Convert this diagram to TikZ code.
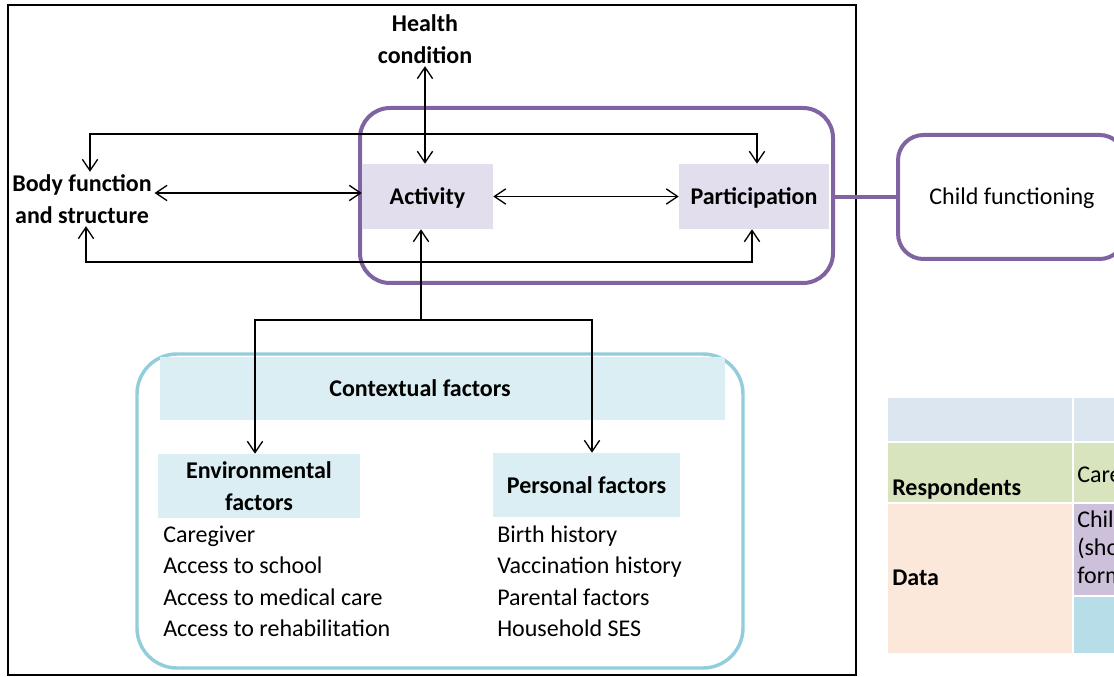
\documentclass[tikz,border=0pt]{standalone}
\usepackage{fontspec}
\setmainfont{Carlito}
\usetikzlibrary{arrows.meta}
\definecolor{icfpurple}{HTML}{8064A2}
\definecolor{boxlav}{HTML}{E2DEEE}
\definecolor{ctxblue}{HTML}{92CDDC}
\definecolor{ctxfill}{HTML}{DAEEF3}
\definecolor{hdrfill}{HTML}{DCE6F1}
\definecolor{resfill}{HTML}{D7E4BD}
\definecolor{datfill}{HTML}{FCE8DA}
\definecolor{cellpurple}{HTML}{CCC0DA}
\definecolor{cellblue}{HTML}{B7DEE8}
\newcommand{\bodyfont}{\fontsize{18}{23.6}\selectfont}
\begin{document}
\begin{tikzpicture}[x=0.75pt,y=-0.75pt,
  every node/.style={font=\bodyfont, inner sep=2pt},
  lbl/.style={font=\bodyfont\bfseries, align=center},
  item/.style={anchor=base west, inner sep=0pt},
  pbox/.style={fill=boxlav, minimum height=48.75pt, text depth=0pt, font=\bodyfont\bfseries},
  cbox/.style={fill=ctxfill, font=\bodyfont\bfseries, align=center},
  link/.style={line width=1pt, {Straight Barb[length=8.5pt,width=11.5pt]}-{Straight Barb[length=8.5pt,width=11.5pt]}},
  onelink/.style={line width=1pt, -{Straight Barb[length=8.5pt,width=11.5pt]}}
]
\useasboundingbox (0,0) rectangle (1114,677);
\clip (0,0) rectangle (1114,677);

% outer frame
\draw[line width=1.6pt] (8,5) rectangle (856,675);

% ICF core: activity and participation group
\node[draw=icfpurple, line width=3pt, rounded corners=22.5pt,
      minimum width=354.75pt, minimum height=131.25pt] (grp) at (596.5,195.5) {};
\node[pbox, minimum width=98.25pt] (act) at (427.5,196.5) {Activity};
\node[pbox, minimum width=112.5pt] (part) at (754,196.5) {Participation};

\node[lbl] (health) at (425,39) {Health\\condition};
\node[lbl] (body) at (82,199) {Body function\\and structure};

% child functioning box
\node[draw=icfpurple, line width=3pt, rounded corners=19pt,
      minimum width=170.25pt, minimum height=93pt] (child) at (1011.5,197) {};
\node (childtxt) at (1012,198) {Child functioning};
\draw[icfpurple, line width=3pt] (grp.east |- child.west) -- (child.west);

% interactions
\draw[link] (health.south) -- (health.south |- act.north);
\draw[link] (body.east |- 0,193) -- (act.west |- 0,193);
\draw[link] (act.east) -- (part.west);

\coordinate (tl) at (90,134);
\coordinate (tr) at (757,134);
\draw[link] (body.north -| tl) -- (tl) -- (tr) -- (tr |- part.north);

\coordinate (bl) at (86,262);
\coordinate (br) at (752,262);
\draw[link] (body.south -| bl) -- (bl) -- (br) -- (br |- part.south);

% contextual factors
\node[draw=ctxblue, line width=2.6pt, rounded corners=30pt,
      minimum width=454.5pt, minimum height=235.5pt] (ctxframe) at (440,511) {};
\node[fill=ctxfill, minimum width=423.75pt, minimum height=47.25pt] (ctxband) at (442.5,388.5) {};
\node[lbl] (ctx) at (420,388) {Contextual factors};
\node[cbox, minimum width=151.5pt, minimum height=48pt] (env) at (259,486) {Environmental\\factors};
\node[cbox, minimum width=140.25pt, minimum height=48pt, text depth=0pt] (pers) at (586.5,485) {Personal factors};

\coordinate (split) at (421,320);
\coordinate (jl) at (255,320);
\coordinate (jr) at (592,320);
\draw[onelink] (split) -- (split |- act.south);
\draw[link] (env.north -| jl) -- (jl) -- (jr) -- (pers.north -| jr);

\node[item] (e1) at (163,542) {Caregiver};
\node[item] (e2) at (163,573.5) {Access to school};
\node[item] (e3) at (163,605) {Access to medical care};
\node[item] (e4) at (163,636.5) {Access to rehabilitation};
\node[item] (p1) at (497,542) {Birth history};
\node[item] (p2) at (497,573.5) {Vaccination history};
\node[item] (p3) at (497,605) {Parental factors};
\node[item] (p4) at (497,636.5) {Household SES};

% data table
\fill[hdrfill] (888,398) rectangle (1072,441);
\fill[hdrfill] (1074,398) rectangle (1120,441);
\fill[resfill] (888,443) rectangle (1072,502);
\fill[resfill] (1074,443) rectangle (1120,502);
\fill[datfill] (888,504) rectangle (1072,653);
\fill[cellpurple] (1074,504) rectangle (1120,595);
\fill[cellblue] (1074,597) rectangle (1120,653);
\node[item, font=\bodyfont\bfseries] (resp) at (892,495) {Respondents};
\node[item, font=\bodyfont\bfseries] (data) at (892,585) {Data};
\node[item] (r1) at (1077,482) {Caregivers};
\node[item] (d1) at (1077,527) {Child};
\node[item] (d2) at (1077,555) {(short};
\node[item] (d3) at (1077,583) {form};
\end{tikzpicture}
\end{document}
